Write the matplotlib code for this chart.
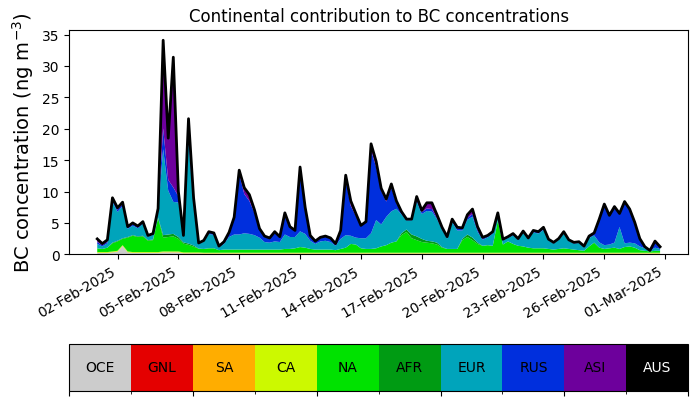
import matplotlib
matplotlib.use("Agg")
import matplotlib.pyplot as plt
import matplotlib.dates as mdates
import numpy as np
import pandas as pd
from matplotlib.colors import ListedColormap, BoundaryNorm
from matplotlib.cm import ScalarMappable

# 6-hourly values, 01-Feb-2025 00:00 -> 28-Feb-2025 18:00 (ng m-3)
N = 112
times = pd.date_range("2025-02-01 00:00", periods=N, freq="6h")

regions = ["OCE", "GNL", "SA", "CA", "NA", "AFR", "EUR", "RUS", "ASI", "AUS"]

OCE = [0.2, 0.2, 0.2, 0.3, 0.4, 1.3, 0.3, 0.2, 0.2, 0.2, 0.2, 0.2,
       0.2, 0.3, 0.3, 0.3, 0.3, 0.15, 0.15, 0.15, 0.15, 0.1, 0.1, 0.1] + [0.1] * 88
GNL = [0.0] * N
SA = [0.05] * N
CA = [0.1] * N

NA = [0.6, 0.5, 0.7, 1.3, 1.5, 1.0, 2.2, 2.6, 2.4, 2.5, 1.8, 1.9,
      5.4, 2.2, 2.3, 2.4, 2.0, 1.4, 1.2, 0.9, 0.6, 0.6, 0.7, 0.7,
      0.4, 0.5, 0.5, 0.5, 0.5, 0.5, 0.5, 0.5, 0.5, 0.5, 0.5, 0.5,
      0.5, 0.6, 0.6, 0.7, 0.9, 0.8, 0.6, 0.5, 0.5, 0.5, 0.5, 0.4,
      0.6, 0.8, 1.4, 1.3, 0.7, 0.6, 0.6, 0.7, 1.0, 1.2, 1.6, 1.8,
      2.8, 3.3, 2.3, 2.0, 1.7, 1.6, 1.5, 1.3, 0.8, 0.6, 0.6, 0.6,
      2.0, 2.5, 2.0, 1.4, 1.1, 1.2, 1.1, 5.1, 1.3, 1.8, 1.4, 1.1,
      1.0, 0.8, 0.7, 0.7, 0.7, 0.6, 0.5, 0.6, 0.7, 0.6, 0.5, 0.4,
      0.3, 1.0, 1.6, 0.8, 0.6, 0.7, 0.8, 0.6, 0.9, 1.0, 0.8, 0.4,
      0.3, 0.2, 0.3, 0.3]

AFR = [0.0, 0.0, 0.0, 0.1, 0.1, 0.1, 0.1, 0.1, 0.1, 0.1, 0.1, 0.1,
       0.1, 0.4, 0.4, 0.4, 0.3, 0.2, 0.2, 0.2, 0.0, 0.0, 0.0, 0.0,
       0.0, 0.0, 0.0, 0.0, 0.0, 0.0, 0.0, 0.0, 0.0, 0.0, 0.0, 0.0,
       0.0, 0.0, 0.0, 0.0, 0.0, 0.0, 0.0, 0.0, 0.0, 0.0, 0.0, 0.0,
       0.0, 0.0, 0.0, 0.0, 0.0, 0.0, 0.0, 0.0, 0.0, 0.0, 0.0, 0.0,
       0.3, 0.4, 0.6, 0.6, 0.5, 0.3, 0.3, 0.3, 0.1, 0.0, 0.0, 0.0,
       0.2, 0.4, 0.4, 0.2, 0.0, 0.0, 0.0, 0.0, 0.0, 0.0, 0.0, 0.0,
       0.0, 0.0, 0.0, 0.0, 0.0, 0.0, 0.0, 0.0, 0.0, 0.0, 0.0, 0.0,
       0.0, 0.0, 0.0, 0.0, 0.0, 0.0, 0.0, 0.0, 0.0, 0.0, 0.0, 0.0,
       0.0, 0.0, 0.0, 0.0]

EUR = [0.7, 0.4, 0.7, 6.5, 4.6, 5.1, 1.3, 1.5, 1.3, 1.9, 0.55, 0.75,
       1.0, 13.7, 7.0, 5.1, 5.5, 1.0, 16.3, 6.2, 0.8, 1.15, 2.3, 2.1,
       0.45, 0.9, 2.0, 2.4, 2.4, 2.6, 2.5, 2.3, 1.9, 1.2, 1.1, 1.3,
       1.2, 2.3, 1.9, 1.8, 2.5, 2.2, 1.3, 0.9, 1.3, 1.4, 1.2, 0.7,
       1.6, 2.0, 1.3, 1.1, 1.6, 1.7, 2.5, 4.5, 3.5, 4.5, 5.0, 5.2,
       3.0, 1.45, 2.25, 5.55, 3.95, 4.75, 4.75, 3.75, 2.75, 1.65, 4.25, 2.95,
       1.35, 2.35, 3.35, 1.75, 0.95, 1.25, 1.95, 0.95, 0.65, 0.55, 1.35, 0.95,
       2.15, 1.35, 2.55, 2.35, 2.95, 1.35, 0.95, 1.45, 2.35, 1.25, 0.95, 1.15,
       0.55, 1.35, 1.15, 0.85, 0.6, 0.6, 0.8, 3.5, 0.6, 0.6, 0.7, 0.6,
       0.4, 0.1, 0.5, 0.3]

RUS = [0.3, 0.2, 0.25, 0.35, 0.35, 0.35, 0.2, 0.25, 0.2, 0.2, 0.1, 0.1,
       0.25, 3.3, 1.7, 2.3, 1.0, 0.1, 2.5, 1.0, 0.1, 0.2, 0.35, 0.35,
       0.2, 0.35, 0.75, 2.5, 9.65, 6.25, 5.25, 3.55, 1.3, 0.95, 0.75, 1.55,
       0.85, 3.3, 1.55, 1.05, 9.75, 3.95, 0.85, 0.45, 0.55, 0.75, 0.65, 0.35,
       1.35, 8.75, 4.75, 3.45, 2.05, 2.65, 13.25, 8.45, 5.35, 2.45, 3.75, 0.85,
       0.3, 0.2, 0.2, 0.5, 0.3, 0.4, 0.4, 0.2, 0.2, 0.2, 0.3, 0.3,
       0.2, 0.3, 0.4, 0.3, 0.2, 0.2, 0.2, 0.2, 0.2, 0.2, 0.3, 0.2,
       0.3, 0.2, 0.3, 0.3, 0.4, 0.2, 0.2, 0.2, 0.3, 0.2, 0.2, 0.2,
       0.2, 0.3, 0.3, 3.5, 6.45, 4.65, 5.75, 2.15, 6.65, 5.35, 3.35, 1.25,
       0.25, 0.05, 1.05, 0.35]

ASI = [0.5, 0.25, 0.3, 0.3, 0.3, 0.3, 0.15, 0.2, 0.15, 0.15, 0.1, 0.1,
       0.2, 14.05, 6.65, 20.75, 0.75, 0.0, 1.1, 0.4, 0.0, 0.0, 0.0, 0.0,
       0.0, 0.0, 0.0, 0.25, 0.6, 1.0, 1.0, 0.5, 0.15, 0.0, 0.0, 0.0,
       0.0, 0.15, 0.1, 0.0, 0.5, 0.3, 0.0, 0.0, 0.1, 0.0, 0.0, 0.0,
       0.0, 0.8, 0.8, 0.4, 0.0, 0.0, 1.0, 0.9, 0.4, 0.4, 0.6, 0.4,
       0.15, 0.0, 0.0, 0.3, 0.3, 0.9, 1.0, 0.5, 0.2, 0.1, 0.2, 0.2,
       0.2, 0.5, 0.8, 0.5, 0.2, 0.1, 0.1, 0.1, 0.0, 0.0, 0.0, 0.0,
       0.0, 0.0, 0.0, 0.0, 0.0, 0.0, 0.0, 0.0, 0.0, 0.0, 0.0, 0.0,
       0.0, 0.0, 0.1, 0.2, 0.1, 0.0, 0.0, 0.0, 0.0, 0.0, 0.0, 0.0,
       0.0, 0.0, 0.0, 0.0]

AUS = [0.0] * N

series = [OCE, GNL, SA, CA, NA, AFR, EUR, RUS, ASI, AUS]
colors = plt.cm.nipy_spectral(np.linspace(1, 0, len(regions)))

fig = plt.figure(figsize=(6.98, 4.02), dpi=100)
ax = fig.add_axes([0.099, 0.365, 0.887, 0.559])

ax.stackplot(times, *[np.array(s) for s in series], colors=colors, lw=0)
total = np.sum([np.array(s) for s in series], axis=0)
ax.plot(times, total, color="k", lw=2)

ax.set_title("Continental contribution to BC concentrations", fontsize=12)
ax.set_ylabel("BC concentration (ng m$^{-3}$)", fontsize=14)
ax.set_yticks(range(0, 36, 5))

ticks = pd.date_range("2025-02-02", "2025-03-01", freq="3D")
ax.set_xticks(ticks)
ax.xaxis.set_major_formatter(mdates.DateFormatter("%d-%b-%Y"))
for lab in ax.get_xticklabels():
    lab.set_rotation(30)
    lab.set_ha("right")

# colour key
cax = fig.add_axes([0.099, 0.025, 0.887, 0.117])
cmap = ListedColormap(colors)
norm = BoundaryNorm(np.arange(len(regions) + 1), cmap.N)
cb = fig.colorbar(ScalarMappable(norm=norm, cmap=cmap), cax=cax,
                  orientation="horizontal", ticks=np.arange(0, len(regions) + 1, 2))
cb.ax.set_xticklabels([])
for k, name in enumerate(regions):
    cax.text(k + 0.5, 0.5, name, ha="center", va="center", fontsize=10,
             color="white" if name == "AUS" else "black")

fig.savefig("out.png", dpi=100)
